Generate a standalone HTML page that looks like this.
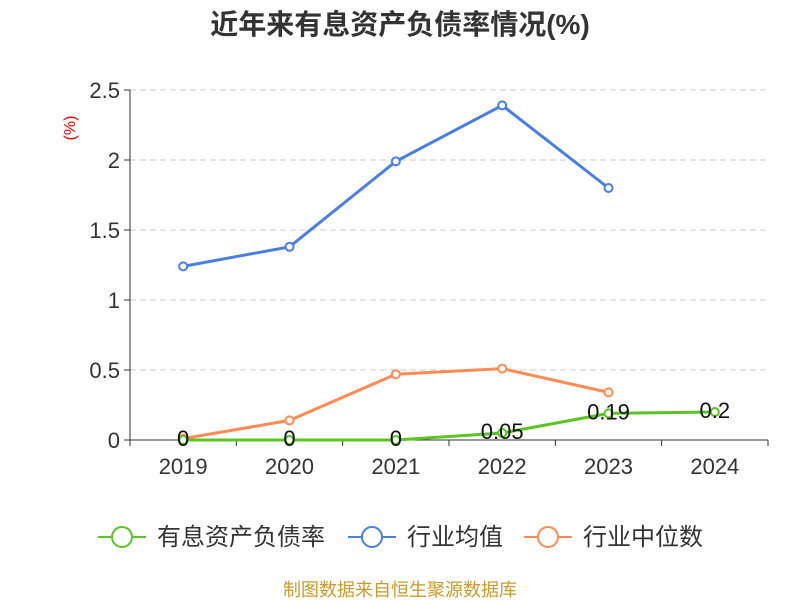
<!DOCTYPE html>
<html><head><meta charset="utf-8"><style>
body{margin:0;background:#fff;}
svg text{font-family:"Liberation Sans","Noto Sans CJK SC",sans-serif;}
</style></head><body>
<svg id="chart" width="800" height="600" xmlns="http://www.w3.org/2000/svg">
<text x="400" y="34" text-anchor="middle" font-size="28" font-weight="bold" fill="#333">近年来有息资产负债率情况(%)</text>
<text x="75" y="128" text-anchor="middle" font-size="16" fill="#e00" transform="rotate(-90 75 128)">(%)</text>
<g id="grid"></g><g id="axes"></g><g id="series"></g>
<g>
<g><line x1="98" y1="537" x2="146" y2="537" stroke="#5cc424" stroke-width="2"/><circle cx="122" cy="537" r="10" fill="#fff" stroke="#5cc424" stroke-width="2"/><text x="157" y="545" font-size="24" fill="#333">有息资产负债率</text></g>
<g><line x1="348" y1="537" x2="396" y2="537" stroke="#4a7fe0" stroke-width="2"/><circle cx="372" cy="537" r="10" fill="#fff" stroke="#4a7fe0" stroke-width="2"/><text x="407" y="545" font-size="24" fill="#333">行业均值</text></g>
<g><line x1="524" y1="537" x2="572" y2="537" stroke="#ff8c55" stroke-width="2"/><circle cx="548" cy="537" r="10" fill="#fff" stroke="#ff8c55" stroke-width="2"/><text x="583" y="545" font-size="24" fill="#333">行业中位数</text></g>
</g>
<text x="400" y="596" text-anchor="middle" font-size="18" fill="#c89b2a">制图数据来自恒生聚源数据库</text>
</svg>
<script>
const categories=["2019","2020","2021","2022","2023","2024"];
const companyValues=[0,0,0,0.05,0.19,0.2];
const companyLabels=["0","0","0","0.05","0.19","0.2"];
const avgValues=[1.24,1.38,1.99,2.39,1.80,null];
const medianValues=[0.01,0.14,0.47,0.51,0.34,null];
const yTicks=[0,0.5,1,1.5,2,2.5];
const yTickLabels=["0","0.5","1","1.5","2","2.5"];
const NS="http://www.w3.org/2000/svg";
const x0=130,x1=768,yb=440,yt=90,ymax=2.5;
const band=(x1-x0)/categories.length;
const xs=i=>x0+band*(i+0.5);
const ys=v=>yb-(v/ymax)*(yb-yt);
function mk(tag,attrs,parent){const e=document.createElementNS(NS,tag);for(const k in attrs)e.setAttribute(k,attrs[k]);parent.appendChild(e);return e;}
const grid=document.getElementById('grid'),axes=document.getElementById('axes'),series=document.getElementById('series');
yTicks.forEach((t,i)=>{
 if(t>0){const l=mk('line',{x1:x0,x2:x1,y1:ys(t),y2:ys(t),stroke:'#ccc','stroke-dasharray':'6,4'},grid);
 
 }
 const tk=mk('line',{x1:x0-6,x2:x0,y1:ys(t),y2:ys(t),stroke:'#333'},axes);
 
 
 const tx=mk('text',{x:x0-10,y:ys(t)+8,'text-anchor':'end','font-size':22,fill:'#333'},axes);
 tx.textContent=yTickLabels[i];
 
 
});
const ya=mk('line',{x1:x0,x2:x0,y1:yt,y2:yb,stroke:'#333'},axes);


const xa=mk('line',{x1:x0,x2:x1,y1:yb,y2:yb,stroke:'#333'},axes);


for(let i=0;i<=categories.length;i++){const t=mk('line',{x1:x0+band*i,x2:x0+band*i,y1:yb,y2:yb+6,stroke:'#333'},axes);
 
 }
categories.forEach((c,i)=>{const t=mk('text',{x:xs(i),y:yb+34,'text-anchor':'middle','font-size':22,fill:'#333'},axes);t.textContent=c;
 
 });
function draw(vals,color,name){
 const pts=vals.map((v,i)=>v==null?null:[xs(i),ys(v)]).filter(p=>p);
 const pl=mk('polyline',{points:pts.map(p=>p.join(',')).join(' '),fill:'none',stroke:color,'stroke-width':3},series);
 
 
 pts.forEach(p=>{const c=mk('circle',{cx:p[0],cy:p[1],r:4,fill:'#fff',stroke:color,'stroke-width':2},series);
 
 });
}
draw(avgValues,'#4a7fe0','industry-avg');
draw(medianValues,'#ff8c55','industry-median');
draw(companyValues,'#5cc424','company');
companyValues.forEach((v,i)=>{const t=mk('text',{x:xs(i),y:ys(v)+6,'text-anchor':'middle','font-size':22,fill:'#111'},series);t.textContent=companyLabels[i];
 
 });
</script>
</body></html>
